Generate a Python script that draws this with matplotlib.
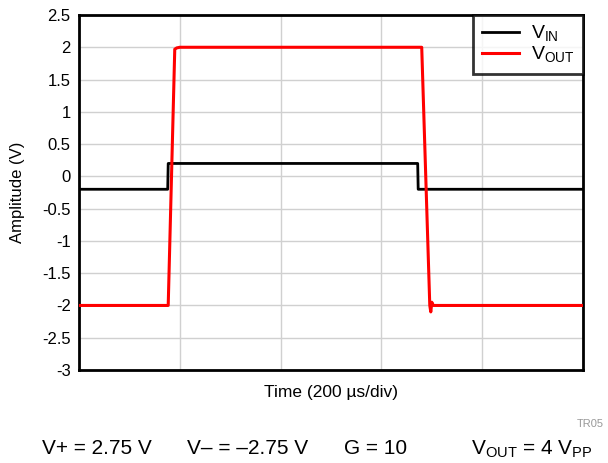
import matplotlib
matplotlib.use("Agg")
import matplotlib.pyplot as plt

plt.rcParams['font.family'] = ['Liberation Sans', 'DejaVu Sans']
plt.rcParams['axes.unicode_minus'] = False

# time in microseconds (200 us/div, 5 divisions)
vin_t = [0, 176, 177, 672, 673, 1000]
vin_v = [-0.2, -0.2, 0.2, 0.2, -0.2, -0.2]
vout_t = [0, 177, 190, 194, 200, 680, 696, 698, 700, 703, 1000]
vout_v = [-2.0, -2.0, 1.97, 1.99, 2.0, 2.0, -2.0, -2.1, -1.95, -2.0, -2.0]
yticks = [2.5, 2, 1.5, 1, 0.5, 0, -0.5, -1, -1.5, -2, -2.5, -3]

fig = plt.figure(figsize=(6.08, 4.63), dpi=100)
ax = fig.add_axes([79/608, 93/463, 504/608, 355/463])

ax.plot(vin_t, vin_v, color='black', lw=2, label=r'V$_\mathregular{IN}$', zorder=3)
ax.plot(vout_t, vout_v, color='#ff0000', lw=2.2, label=r'V$_\mathregular{OUT}$', zorder=4)

ax.set_xlim(0, 1000)
ax.set_ylim(-3, 2.5)
ax.set_xticks([0, 200, 400, 600, 800, 1000])
ax.set_xticklabels([])
ax.set_yticks(yticks)
ax.set_yticklabels([('%g' % v) for v in yticks])
ax.tick_params(axis='both', length=0, labelsize=12, pad=6)
ax.grid(True, color='#d0d0d0', lw=1)
for s in ax.spines.values():
    s.set_linewidth(2)
    s.set_color('black')

ax.set_xlabel('Time (200 µs/div)', fontsize=12.5, labelpad=5)
ax.set_ylabel('Amplitude (V)', fontsize=12, labelpad=12)

leg = ax.legend(loc='upper right', fontsize=14, frameon=True, fancybox=False,
                borderaxespad=0, handlelength=1.9, handletextpad=0.6,
                labelspacing=0.05, borderpad=0.45)
leg.get_frame().set_edgecolor('black')
leg.get_frame().set_linewidth(2)

fig.text(577/608, 1 - 424/463, 'TR05', fontsize=8, color='#999999', va='center')
fig.text(42/608, 1 - 449/463, 'V+ = 2.75 V', fontsize=15, va='center')
fig.text(187/608, 1 - 449/463, 'V– = –2.75 V', fontsize=15, va='center')
fig.text(344/608, 1 - 449/463, 'G = 10', fontsize=15, va='center')
fig.text(471/608, 1 - 449/463, r'V$_\mathregular{OUT}$ = 4 V$_\mathregular{PP}$', fontsize=15, va='center')

fig.savefig('out.png', dpi=100)
